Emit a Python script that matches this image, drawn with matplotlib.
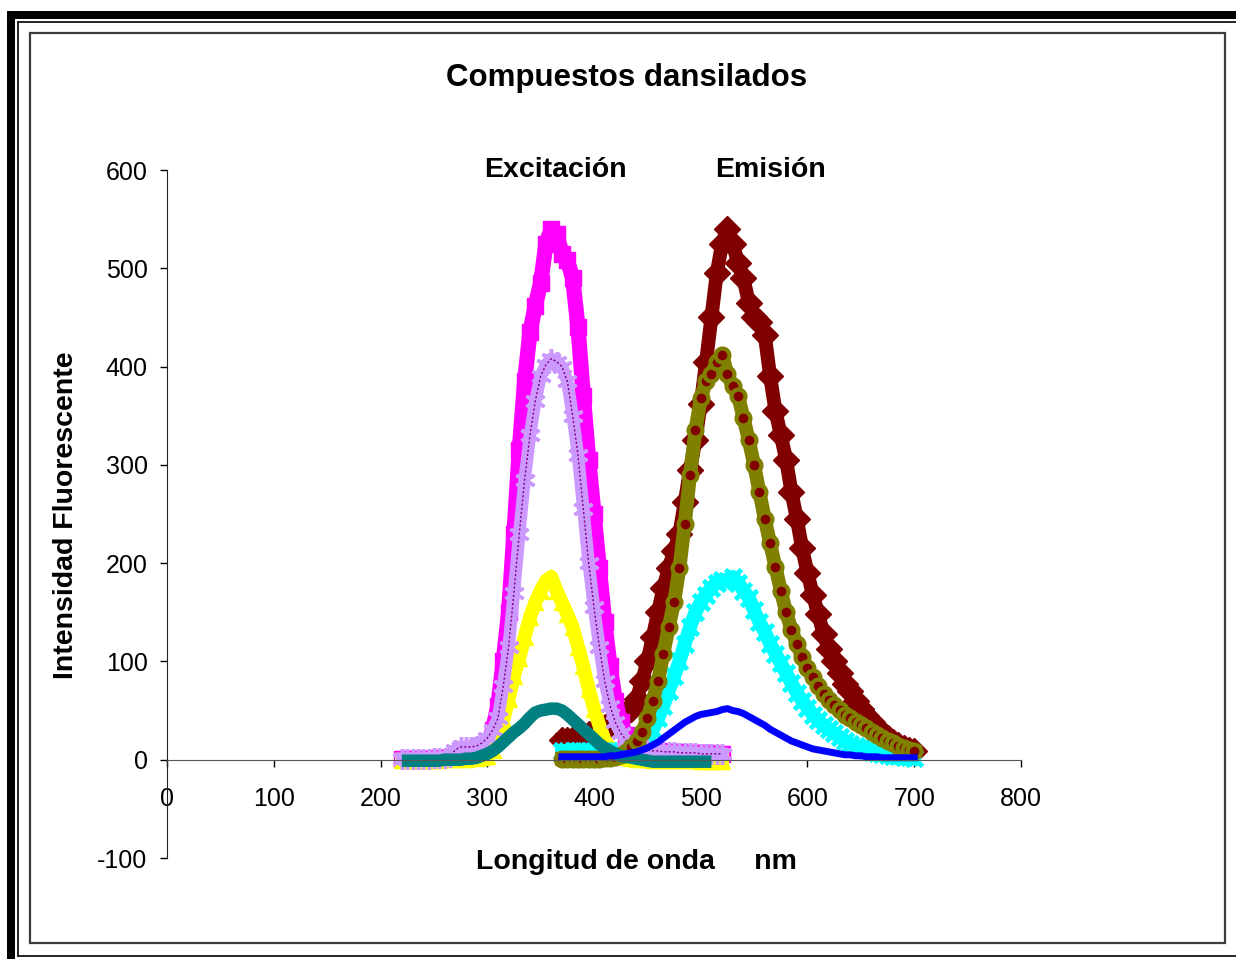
import matplotlib
matplotlib.use('Agg')
import matplotlib.pyplot as plt
from matplotlib.patches import Rectangle
from matplotlib.lines import Line2D

plt.rcParams['font.family'] = ['Liberation Sans', 'DejaVu Sans']
plt.rcParams['axes.unicode_minus'] = False

# longitudes de onda (nm)
wl_exc = list(range(220, 525, 5))
wl_em = list(range(370, 705, 5))

# excitacion
magenta = [1, 1, 1, 1, 1, 1, 1, 2, 2, 2, 3, 3, 4, 5, 7, 10, 15, 30, 55, 100,
           150, 230, 315, 385, 435, 462, 485, 525, 540, 535, 515, 508, 490, 440, 370, 305,
           250, 195, 140, 95, 60, 38, 25, 17, 13, 11, 10, 9, 9, 8, 8, 8, 8, 7, 7, 7,
           7, 7, 6, 6, 6]
lavanda = [1, 1, 1, 1, 1, 1, 2, 2, 2, 3, 10, 13, 13, 13, 14, 17, 22, 30, 42, 75,
           115, 170, 230, 285, 330, 365, 390, 402, 408, 405, 400, 385, 350, 310, 255, 200,
           155, 115, 80, 55, 38, 27, 20, 15, 13, 11, 10, 9, 9, 8, 8, 8, 7, 7, 7, 7,
           6, 6, 6, 6, 6]
amarillo = [0, 0, 0, 0, 0, 0, 0, 0, 1, 1, 1, 1, 1, 2, 2, 3, 4, 10, 22, 40,
            62, 85, 103, 125, 145, 160, 172, 182, 186, 172, 160, 148, 135, 115, 95, 72,
            52, 35, 20, 12, 8, 5, 3, 2, 1, 1, 1, 0, 0, 0, 0, 0, 0, 0, 0, 0,
            -1, -1, -1, -1, -1]
verde_azulado = [-1, -1, -1, -1, -1, -1, -1, -1, 0, 0, 0, 0, 1, 1, 2, 4, 6, 9, 13, 18,
                 23, 28, 32, 37, 43, 48, 50, 51, 52, 52, 50, 46, 41, 36, 31, 26,
                 21, 16, 12, 9, 6, 4, 3, 2, 1, 0, -1, -2, -2, -2, -2, -2, -2, -2, -2, -2,
                 -2, -2, -2]

# emision
granate = [20, 20, 21, 22, 24, 26, 28, 30, 33, 36, 40, 44, 48, 52, 62, 80, 100, 125,
           150, 175, 195, 212, 230, 262, 295, 325, 362, 405, 450, 495, 525, 540, 525,
           505, 490, 465, 450, 445, 432, 390, 355, 330, 305, 272, 245, 215, 190, 168,
           148, 128, 113, 100, 88, 77, 70, 60, 52, 44, 38, 32, 27, 22, 18, 15, 12, 10, 9]
oliva = [1, 1, 1, 1, 1, 1, 1, 1, 2, 2, 3, 5, 8, 13, 19, 28, 42, 60,
         80, 108, 135, 160, 195, 240, 290, 335, 368, 385, 392, 405, 412, 392, 380,
         370, 348, 325, 300, 272, 245, 220, 196, 172, 150, 132, 118, 104, 93, 84,
         75, 67, 61, 56, 51, 46, 42, 38, 35, 32, 28, 25, 22, 19, 17, 14, 12, 10, 9]
cian = [9, 9, 9, 9, 9, 9, 9, 9, 9, 9, 9, 9, 9, 9, 10, 14, 20, 30,
        42, 55, 70, 85, 100, 118, 135, 150, 160, 168, 175, 180, 183, 182, 186,
        180, 172, 165, 152, 140, 130, 118, 108, 98, 88, 78, 68, 60, 53, 46,
        40, 35, 31, 27, 23, 19, 16, 14, 12, 10, 8, 7, 6, 5, 4, 4, 3, 3, 2]
azul = [3, 3, 3, 3, 3, 3, 3, 3, 3, 4, 4, 5, 6, 7, 8, 10, 12, 15,
        18, 22, 26, 30, 34, 38, 41, 44, 46, 47, 48, 49, 51, 52, 50,
        49, 47, 44, 41, 38, 35, 31, 28, 25, 22, 19, 17, 15, 13, 11,
        10, 9, 8, 7, 6, 5, 5, 4, 4, 3, 3, 3, 2, 2, 2, 2, 2, 2, 2]

W, H = 1236, 959
fig = plt.figure(figsize=(W / 100, H / 100), dpi=100)


def px(x, y):
    return x / W, 1 - y / H


# marcos del grafico
fig.add_artist(Rectangle(px(7, 959), 8 / W, 948 / H, transform=fig.transFigure,
                         facecolor='black', edgecolor='none'))
fig.add_artist(Rectangle(px(7, 19), (W - 7) / W, 8 / H, transform=fig.transFigure,
                         facecolor='black', edgecolor='none'))
for xs, ys in [([17.5, 17.5], [21.5, 955.5]), ([17.5, W], [21.5, 21.5]), ([17.5, W], [955.5, 955.5])]:
    fig.add_artist(Line2D([x / W for x in xs], [1 - y / H for y in ys],
                          transform=fig.transFigure, color='black', lw=1.2))
fig.add_artist(Rectangle(px(29.5, 943), (1225 - 29.5) / W, (943 - 32.5) / H,
                         transform=fig.transFigure, facecolor='none',
                         edgecolor='#3c3c3c', lw=1.6))

ax = fig.add_axes([167 / W, 1 - 858 / H, (1021 - 167) / W, (858 - 170) / H])
ax.patch.set_alpha(0)

# series (mismo orden que en la hoja)
ax.plot(wl_em, granate, color='#800000', lw=10, marker='D', ms=13,
        mfc='#800000', mec='#800000')
ax.plot(wl_exc, magenta, color='#FF00FF', lw=11, marker='s', ms=11,
        mfc='#FF00FF', mec='#FF00FF')
ax.plot(wl_exc, amarillo, color='#FFFF00', lw=10, marker='^', ms=12,
        mfc='#FFFF00', mec='#FFFF00')
ax.plot(wl_em, cian, color='#00FFFF', lw=10, marker='x', ms=12, mew=3.5,
        mec='#00FFFF')
ax.plot(wl_exc, lavanda, color='#CC99FF', lw=9)
ax.plot(wl_exc, lavanda, color='#800080', lw=1, ls='none', marker=(6, 2, 0),
        ms=15, mew=2.5, mec='#CC99FF')
ax.plot(wl_exc, lavanda, color='#800080', lw=1, ls=(0, (1.5, 1.5)))
ax.plot(wl_em, oliva, color='#808000', lw=10, marker='o', ms=10,
        mfc='#800000', mec='#808000', mew=3)
ax.plot(wl_exc[:len(verde_azulado)], verde_azulado, color='#008080', lw=9,
        solid_capstyle='butt')
ax.plot(wl_em, azul, color='#0000FF', lw=5)

ax.set_xlim(0, 800)
ax.set_ylim(-100, 600)
ax.set_xticks(range(0, 801, 100))
ax.set_yticks(range(-100, 601, 100))

ax.spines['top'].set_visible(False)
ax.spines['right'].set_visible(False)
ax.spines['bottom'].set_position(('data', 0))
ax.spines['bottom'].set_color('#555555')
ax.spines['left'].set_color('#222222')
ax.tick_params(axis='both', labelsize=18, length=5, width=1, direction='out')
ax.tick_params(axis='x', pad=15)
ax.tick_params(axis='y', pad=9)

ax.text(364, 600, 'Excitación', fontsize=20.5, fontweight='bold', ha='center', va='center')
ax.text(565, 600, 'Emisión', fontsize=20.5, fontweight='bold', ha='center', va='center')

fig.text(*px(627, 78), 'Compuestos dansilados', fontsize=22.5, fontweight='bold',
         ha='center', va='center')
fig.text(*px(636, 862), 'Longitud de onda     nm', fontsize=20.5, fontweight='bold',
         ha='center', va='center')
fig.text(*px(66, 515), 'Intensidad Fluorescente', fontsize=20.5, fontweight='bold',
         ha='center', va='center', rotation=90)

fig.savefig('out.png', dpi=100)
